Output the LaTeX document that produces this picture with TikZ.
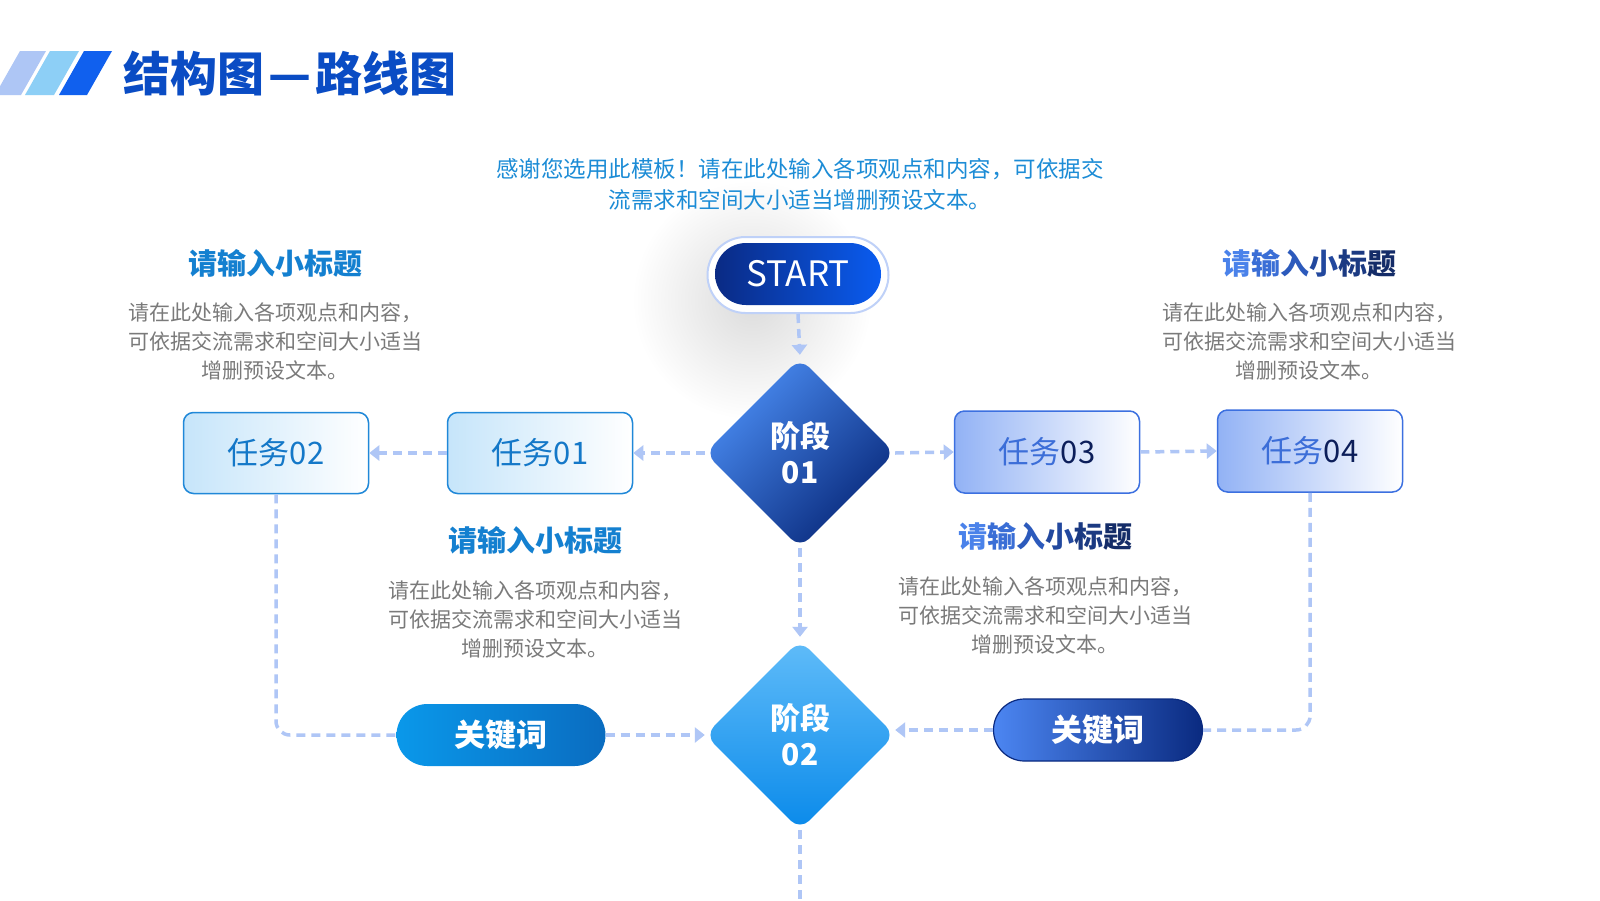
\documentclass[tikz,border=0pt]{standalone}
\usepackage{fontspec}
\setmainfont{Noto Sans CJK SC}
\usetikzlibrary{arrows.meta,shapes.geometric}
\definecolor{titleblue}{HTML}{0A4CC4}
\definecolor{stripeA}{HTML}{AEC6F5}
\definecolor{stripeB}{HTML}{8DCFF6}
\definecolor{stripeC}{HTML}{1060EE}
\definecolor{subblue}{HTML}{1C8CD6}
\definecolor{conncol}{HTML}{AFC6F6}
\definecolor{bodygray}{HTML}{7A7A7A}
\definecolor{headblue}{HTML}{1480D0}
\definecolor{navy}{HTML}{0A2A84}
\definecolor{brightblue}{HTML}{0A5CF0}
\definecolor{lboxl}{HTML}{C6E5FA}
\definecolor{lboxb}{HTML}{2088D8}
\definecolor{lboxt}{HTML}{1478C8}
\definecolor{rboxl}{HTML}{92B2F5}
\definecolor{rboxb}{HTML}{3C70E0}
\definecolor{rboxt}{HTML}{3C6ED8}
\definecolor{rboxd}{HTML}{0C1E5A}
\definecolor{dAl}{HTML}{4A8CF2}
\definecolor{dAd}{HTML}{08287A}
\definecolor{dBt}{HTML}{60BCF9}
\definecolor{dBb}{HTML}{0A8AEA}
\definecolor{kAl}{HTML}{0A98EA}
\definecolor{kAr}{HTML}{0A6CC0}
\definecolor{kBl}{HTML}{4C86F2}
\definecolor{kBr}{HTML}{0A2A80}
\definecolor{hg1}{HTML}{4A82EA}
\definecolor{hg2}{HTML}{3A6ED6}
\definecolor{hg3}{HTML}{2C5ABC}
\definecolor{hg4}{HTML}{22489E}
\definecolor{hg5}{HTML}{1B3A82}
\definecolor{hg6}{HTML}{142C68}
\newcommand\myfs[2]{\fontsize{#1}{#2}\selectfont}
\newcommand\gradhead{{\color{hg1}请}{\color{hg2}输}{\color{hg3}入}{\color{hg4}小}{\color{hg5}标}{\color{hg6}题}}
\begin{document}
\begin{tikzpicture}[x=1pt,y=-1pt,
  conn/.style={draw=conncol, line width=3.5pt, dash pattern=on 9pt off 6pt},
  arr/.style={conn, -{Triangle[width=15pt,length=10pt]}},
  lbox/.style={rectangle, rounded corners=10pt, minimum width=185pt, minimum height=81pt,
    left color=lboxl, right color=white, draw=lboxb, line width=1.5pt, inner sep=0pt,
    text=lboxt, font=\myfs{31}{36}},
  rbox/.style={rectangle, rounded corners=10pt, minimum width=185pt, minimum height=82pt,
    left color=rboxl, right color=white, draw=rboxb, line width=1.5pt, inner sep=0pt,
    text=rboxd, font=\myfs{31}{36}},
  stage/.style={diamond, aspect=1, minimum width=190pt, minimum height=190pt, inner sep=0pt,
    rounded corners=13pt, text=white, align=center, font=\bfseries\myfs{30}{36}},
  kw/.style={rectangle, rounded corners=31pt, minimum width=209pt, minimum height=62pt,
    inner sep=0pt, text=white, font=\bfseries\myfs{31}{36}},
  head/.style={font=\bfseries\myfs{29}{34}, inner sep=0pt},
  body/.style={font=\myfs{21}{29}, text=bodygray, align=center, inner sep=0pt},
]
\useasboundingbox[fill=white] (0,0) rectangle (1600,900);

% shadow of start (drawn first, behind everything)
\shade[inner color=black!14, outer color=white] (752,300) circle (120);

% title
\fill[stripeA] (-5,95) -- (20,51) -- (46,51) -- (21,95) -- cycle;
\fill[stripeB] (25,95) -- (50,51) -- (79,51) -- (54,95) -- cycle;
\fill[stripeC] (59,95) -- (84,51) -- (112,51) -- (87,95) -- cycle;
\node[anchor=west, inner sep=0pt, text=titleblue, font=\bfseries\myfs{47}{50}] (title) at (123,74) {结构图\hspace{4pt}—\hspace{4pt}路线图};

% subtitle
\node[text=subblue, font=\myfs{22.5}{31}, align=center, inner sep=0pt] (sub) at (800,184)
  {感谢您选用此模板！请在此处输入各项观点和内容，可依据交\\流需求和空间大小适当增删预设文本。};

% START
\node[rectangle, rounded corners=38pt, minimum width=181pt, minimum height=76pt,
  fill=white, draw=conncol!80, line width=2pt, inner sep=0pt] (startring) at (798,275) {};
\node[rectangle, rounded corners=31pt, minimum width=166pt, minimum height=62pt,
  left color=navy, right color=brightblue, inner sep=0pt, text=white,
  font=\myfs{35}{40}] (start) at (798,274) {START};

% stages
\node[stage, shading=axis, top color=dAl, bottom color=dAd, shading angle=45] (d1) at (800,453) {阶段\\01};
\node[stage, top color=dBt, bottom color=dBb] (d2) at (800,735) {阶段\\02};

% tasks
\node[lbox] (t1) at (540,453) {任务01};
\node[lbox] (t2) at (276,453) {任务02};
\node[rbox] (t3) at (1047,452) {{\color{rboxt}任务}03};
\node[rbox] (t4) at (1310,451) {{\color{rboxt}任务}04};

% keywords
\node[kw, left color=kAl, right color=kAr] (k1) at (501,735) {关键词};
\node[kw, left color=kBl, right color=kBr, draw=kBr, line width=1.2pt] (k2) at (1098,730) {关键词};

% headings and body texts
\node[head, text=headblue] (h1) at (275,263) {请输入小标题};
\node[body] (b1) at (275,341) {请在此处输入各项观点和内容，\\可依据交流需求和空间大小适当\\增删预设文本。};
\node[head] (h2) at (1309,263) {\gradhead};
\node[body] (b2) at (1309,341) {请在此处输入各项观点和内容，\\可依据交流需求和空间大小适当\\增删预设文本。};
\node[head, text=headblue] (h3) at (535,540) {请输入小标题};
\node[body] (b3) at (535,619) {请在此处输入各项观点和内容，\\可依据交流需求和空间大小适当\\增删预设文本。};
\node[head] (h4) at (1045,536) {\gradhead};
\node[body] (b4) at (1045,615) {请在此处输入各项观点和内容，\\可依据交流需求和空间大小适当\\增删预设文本。};

% connectors
\coordinate (bottomend) at (800,900);
\draw[arr, shorten >=3pt] (startring.south) -- (d1.north);
\draw[arr] (d1.west) -- (t1.east);
\draw[arr] (t1.west) -- (t2.east);
\draw[arr] (d1.east) -- (t3.west);
\draw[arr] (t3.east) -- (t4.west);
\draw[arr, shorten >=3pt] (d1.south) -- (d2.north);
\draw[conn, rounded corners=14pt] (t2.south) |- (k1.west);
\draw[arr] (k1.east) -- (d2.west);
\draw[conn, rounded corners=14pt] (t4.south) |- (k2.east);
\draw[arr] (k2.west) -- (k2.west -| d2.east);
\draw[conn] (d2.south) -- (bottomend);
\end{tikzpicture}
\end{document}
